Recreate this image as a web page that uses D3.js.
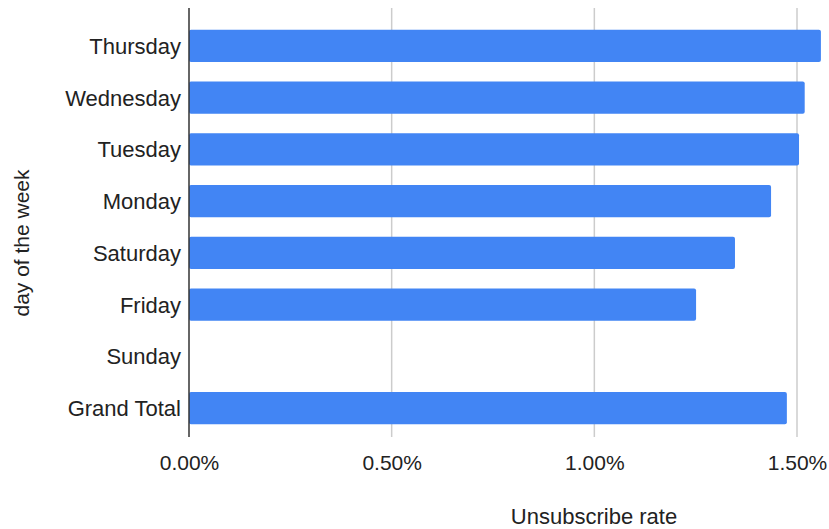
<!DOCTYPE html>
<html>
<head>
<meta charset="utf-8">
<script src="https://cdn.jsdelivr.net/npm/d3@7"></script>
<style>
  html, body { margin: 0; padding: 0; background: #fff; }
  svg text { font-family: "Liberation Sans", Arial, sans-serif; fill: #222; }
</style>
</head>
<body>
<svg id="chart" width="829" height="529"></svg>
<script>
// Unsubscribe rate (%) by day of the week
const days = ["Thursday", "Wednesday", "Tuesday", "Monday", "Saturday", "Friday", "Sunday", "Grand Total"];
const rates = [1.559, 1.519, 1.505, 1.436, 1.347, 1.251, null, 1.475];
const xTicks = [0, 0.5, 1.0, 1.5];
const xTitle = "Unsubscribe rate";
const yTitle = "day of the week";

const svg = d3.select("#chart");
const plotTop = 8, plotBottom = 437;

const x = d3.scaleLinear().domain([0, 1.5]).range([189, 797]);
const y = d3.scaleBand().domain(days).range([20, 434]).paddingInner(0.38).paddingOuter(0.19);

// vertical gridlines
svg.append("g").selectAll("line").data(xTicks.filter(t => t > 0)).join("line")
  .attr("x1", d => x(d)).attr("x2", d => x(d))
  .attr("y1", plotTop).attr("y2", plotBottom)
  .attr("stroke", "#cccccc").attr("stroke-width", 1.5);

// bars
const data = days.map((d, i) => ({ day: d, v: rates[i] })).filter(d => d.v != null);
svg.append("g").selectAll("rect").data(data).join("rect")
  .attr("x", x(0))
  .attr("y", d => y(d.day))
  .attr("width", d => x(d.v) - x(0))
  .attr("height", y.bandwidth())
  .attr("rx", 2).attr("ry", 2)
  .attr("fill", "#4285f4");

// baseline
svg.append("line")
  .attr("x1", x(0)).attr("x2", x(0))
  .attr("y1", plotTop).attr("y2", plotBottom)
  .attr("stroke", "#333").attr("stroke-width", 1.5);

// x-axis tick labels
const xAxis = d3.axisBottom(x).tickValues(xTicks).tickSize(0).tickPadding(0)
  .tickFormat(d => d3.format(".2f")(d) + "%");
const gx = svg.append("g").attr("transform", "translate(0,470)").call(xAxis);
gx.select(".domain").remove();
gx.selectAll("text").attr("font-size", 21).attr("dy", 0)
  .style("font-family", "'Liberation Sans', Arial, sans-serif").attr("fill", "#222");

// y-axis category labels
const yAxis = d3.axisLeft(y).tickSize(0).tickPadding(0);
const gy = svg.append("g").attr("transform", "translate(181,0)").call(yAxis);
gy.select(".domain").remove();
gy.selectAll("text").attr("font-size", 22).attr("dy", "0.36em")
  .style("font-family", "'Liberation Sans', Arial, sans-serif").attr("fill", "#222");

// axis titles
svg.append("text").attr("x", 594).attr("y", 524).attr("text-anchor", "middle")
  .attr("font-size", 22).text(xTitle);
svg.append("text").attr("transform", "translate(29,243) rotate(-90)")
  .attr("text-anchor", "middle").attr("font-size", 21).text(yTitle);
</script>
</body>
</html>
